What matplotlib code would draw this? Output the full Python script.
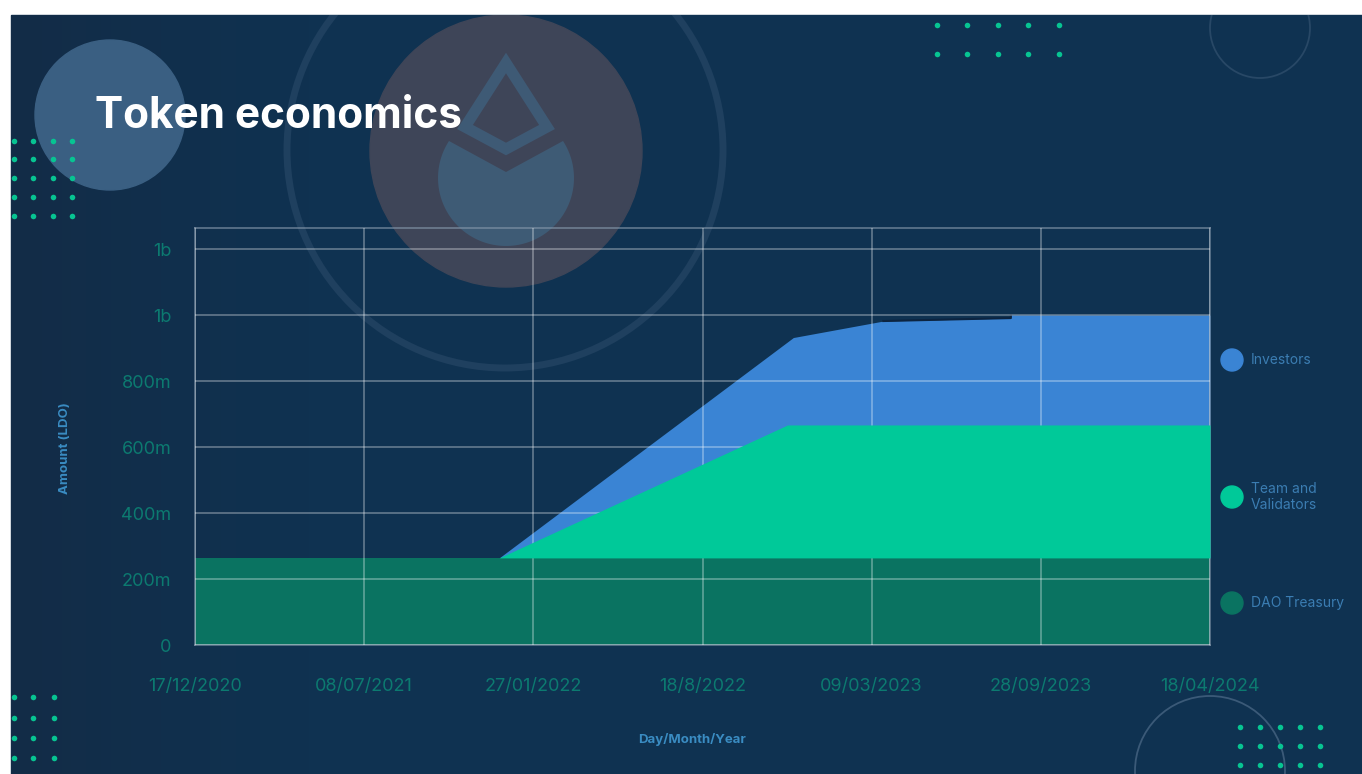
import numpy as np
import matplotlib
matplotlib.use('Agg')
import matplotlib.pyplot as plt
from matplotlib.patches import Circle, Polygon, Rectangle
from matplotlib.colors import LinearSegmentedColormap
from datetime import date

# ---- data (millions of LDO, cumulative stack tops) ----
tick_dates = [date(2020, 12, 17), date(2021, 7, 8), date(2022, 1, 27), date(2022, 8, 18),
              date(2023, 3, 9), date(2023, 9, 28), date(2024, 4, 18)]
tick_labels = ['17/12/2020', '08/07/2021', '27/01/2022', '18/8/2022',
               '09/03/2023', '28/09/2023', '18/04/2024']
y_ticks = [0, 200, 400, 600, 800, 1000, 1200]
y_tick_labels = ['0', '200m', '400m', '600m', '800m', '1b', '1b']

treasury_dates = [date(2020, 12, 17), date(2024, 4, 18)]
treasury_top = [264, 264]

team_dates = [date(2021, 12, 17), date(2022, 11, 28), date(2024, 4, 18)]
team_top = [264, 667, 667]

investor_dates = [date(2021, 12, 17), date(2022, 12, 5), date(2023, 3, 23),
                  date(2023, 8, 23), date(2023, 8, 23), date(2024, 4, 18)]
investor_top = [264, 932, 982, 991, 1000, 1000]

legend_names = ['Investors', 'Team and\nValidators', 'DAO Treasury']

C_BG = '#0f3251'
C_INV = '#3a84d4'
C_TEAM = '#00c999'
C_DAO = '#0a7361'
C_TICK = '#0c7a70'
C_LABEL = '#3a8cc2'
C_LEG = '#3b7db2'
C_DOT = '#07c492'

W, H = 1362, 774
fig = plt.figure(figsize=(W / 100, H / 100), dpi=100, facecolor='white')

# background layer in pixel coords
bg = fig.add_axes((0, 0, 1, 1))
bg.set_xlim(0, W)
bg.set_ylim(H, 0)
bg.set_axis_off()
frame = Rectangle((11, 15), W - 11, H - 15, color=C_BG, zorder=0)
bg.add_patch(frame)
# slightly darker towards the left edge
grad = np.linspace(0, 1, 300).reshape(1, -1)
cmap = LinearSegmentedColormap.from_list('bgfade', ['#132c47', C_BG])
bg.imshow(grad, cmap=cmap, extent=(11, 311, H, 15), aspect='auto', zorder=0.5)
bg.set_xlim(0, W)
bg.set_ylim(H, 0)


def deco(p):
    bg.add_patch(p)
    p.set_clip_path(frame)


# big ring, tinted circle and logo
deco(Circle((505, 150), 218, fill=False, ec='#1f405f', lw=5, zorder=1))
deco(Circle((506, 151), 136, color='#3e4558', zorder=1))
deco(Polygon([(506, 63), (547, 127), (506, 149), (465, 127)], closed=True,
             fill=False, ec='#3e5a75', lw=8, joinstyle='miter', zorder=2))
t = np.radians(np.linspace(-33, 213, 80))
drop = [(506 + 68 * np.cos(a), 178 + 68 * np.sin(a)) for a in t] + [(506, 172)]
deco(Polygon(drop, closed=True, color='#3e5b75', lw=0, zorder=2))

# left circle
deco(Circle((110, 115), 75, color='#3a5f82', zorder=1))

# ring outlines top right / bottom right
deco(Circle((1260, 28), 50, fill=False, ec='#284866', lw=1.3, zorder=1))
deco(Circle((1210, 771), 75, fill=False, ec='#3b5a78', lw=1.3, zorder=1))


# dot grids
def dots(xs, ys):
    gx, gy = np.meshgrid(xs, ys)
    sc = bg.scatter(gx.ravel(), gy.ravel(), s=16, color=C_DOT, lw=0, zorder=3)
    sc.set_clip_path(frame)


dots([14, 33, 53, 72], [141, 159, 178, 197, 216])
dots([937, 967, 998, 1028, 1059], [25, 54])
dots([14, 33, 54], [697, 718, 738, 758])
dots([1240, 1260, 1280, 1300, 1320], [727, 746, 765])

bg.text(95, 116, 'Token economics', color='white', fontsize=30.5, fontweight='bold',
        family='Inter', ha='left', va='center', zorder=4)

# legend drawn by hand
for yy, name, col in zip([360, 497, 603], legend_names, [C_INV, C_TEAM, C_DAO]):
    bg.add_patch(Circle((1232, yy), 11, color=col, zorder=3))
    bg.text(1251, yy, name, color=C_LEG, fontsize=10, family='Inter',
            ha='left', va='center', linespacing=1.1, zorder=3)

# chart axes
x0, x1, y0, y1 = 195, 1210, 228, 645
ax = fig.add_axes((x0 / W, (H - y1) / H, (x1 - x0) / W, (y1 - y0) / H))
ax.set_facecolor('none')

ax.fill_between(investor_dates, 264, investor_top, color=C_INV, lw=0, zorder=1)
ax.plot(investor_dates[2:5], investor_top[2:5], color='#0c2440', lw=1.5, zorder=1.5)
ax.fill_between(treasury_dates, 0, treasury_top, color=C_DAO, lw=0, zorder=1)
ax.fill_between(team_dates, 264, team_top, color=C_TEAM, lw=0, zorder=3)

ax.set_xlim(tick_dates[0], tick_dates[-1])
ax.set_ylim(0, 1264)
ax.set_xticks(tick_dates)
ax.set_xticklabels(tick_labels)
ax.set_yticks(y_ticks)
ax.set_yticklabels(y_tick_labels)
ax.grid(True, color='white', alpha=0.3, lw=1.4, zorder=2)
ax.set_axisbelow(False)
for a in ax.get_xgridlines() + ax.get_ygridlines():
    a.set_zorder(2)
for s in ax.spines.values():
    s.set_color('#8396aa')
    s.set_alpha(0.6)
    s.set_linewidth(1.4)
    s.set_zorder(2)
ax.tick_params(length=0, colors=C_TICK, labelsize=13)
ax.tick_params(axis='y', pad=17)
ax.tick_params(axis='x', pad=24)
for lab in ax.get_xticklabels() + ax.get_yticklabels():
    lab.set_family('Inter')

fig.text(65 / W, 1 - 448 / H, 'Amount (LDO)', rotation=90, color=C_LABEL, fontsize=9.5,
         fontweight='bold', family='Inter', ha='center', va='center')
fig.text(692 / W, 1 - 739 / H, 'Day/Month/Year', color=C_LABEL, fontsize=9.5,
         fontweight='bold', family='Inter', ha='center', va='center')

fig.savefig('out.png', dpi=100, facecolor='white')
